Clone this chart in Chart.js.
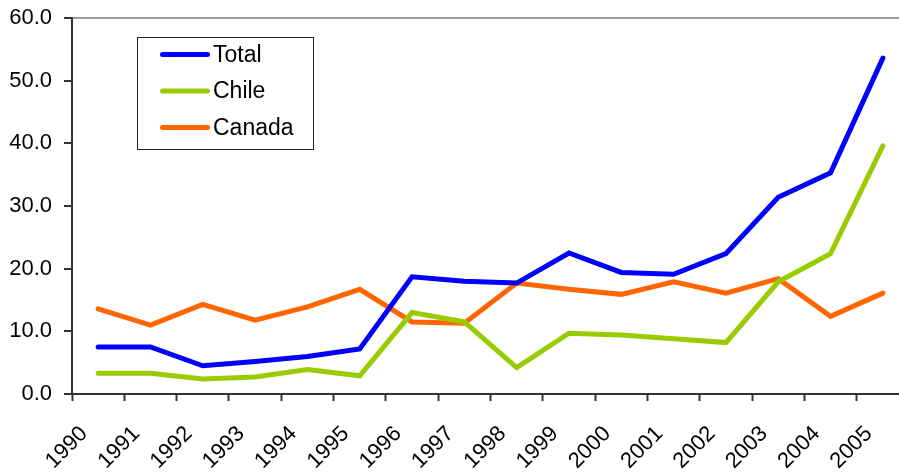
<!DOCTYPE html>
<html>
<head>
<meta charset="utf-8">
<script src="https://cdn.jsdelivr.net/npm/chart.js@4"></script>
<style>
  html, body { margin: 0; padding: 0; background: #fff; overflow: hidden; }
  #wrap { position: relative; width: 910px; height: 476px; }
</style>
</head>
<body>
<div id="wrap"><canvas id="importChart"></canvas></div>
<script>
// Chart data
const years = ['1990', '1991', '1992', '1993', '1994', '1995', '1996', '1997',
               '1998', '1999', '2000', '2001', '2002', '2003', '2004', '2005'];
const totalValues  = [7.5, 7.5, 4.5, 5.2, 6.0, 7.2, 18.7, 18.0, 17.7, 22.5, 19.4, 19.1, 22.4, 31.4, 35.3, 53.6];
const chileValues  = [3.3, 3.3, 2.4, 2.7, 3.9, 2.9, 13.0, 11.5, 4.2, 9.7, 9.4, 8.8, 8.2, 17.9, 22.4, 39.6];
const canadaValues = [13.6, 11.0, 14.3, 11.8, 13.9, 16.7, 11.5, 11.3, 17.7, 16.7, 15.9, 17.9, 16.1, 18.4, 12.4, 16.1];
const yMin = 0;
const yMax = 60;
const yStep = 10;

const FONT = '"Liberation Sans", Arial, sans-serif';

// Boxed legend inside the plot, like the original
const boxLegend = {
    id: 'boxLegend',
    afterDatasetsDraw(chart) {
        const { ctx, chartArea } = chart;
        const x = chartArea.left + 65;
        const y = chartArea.top + 19;
        const w = 176, h = 112;
        ctx.save();
        ctx.fillStyle = '#fff';
        ctx.fillRect(x, y, w, h);
        ctx.strokeStyle = '#222';
        ctx.lineWidth = 1;
        ctx.strokeRect(x + 0.5, y + 0.5, w, h);
        chart.data.datasets.forEach((ds, i) => {
            const rowY = y + 17.5 + i * 36.5;
            ctx.strokeStyle = ds.borderColor;
            ctx.lineWidth = 5;
            ctx.lineCap = 'round';
            ctx.beginPath();
            ctx.moveTo(x + 25.5, rowY);
            ctx.lineTo(x + 70.5, rowY);
            ctx.stroke();
            ctx.fillStyle = '#000';
            ctx.font = '23px ' + FONT;
            ctx.textBaseline = 'middle';
            ctx.fillText(ds.label, x + 76, rowY + 1);
        });
        ctx.restore();
    }
};

function lineSeries(label, data, color) {
    return {
        label: label,
        data: data,
        borderColor: color,
        backgroundColor: color,
        borderWidth: 5,
        borderCapStyle: 'round',
        borderJoinStyle: 'miter',
        pointRadius: 0,
        tension: 0,
        fill: false
    };
}

new Chart(document.getElementById('importChart').getContext('2d'), {
    type: 'line',
    data: {
        labels: years,
        datasets: [
            lineSeries('Total', totalValues, '#0000FF'),
            lineSeries('Chile', chileValues, '#99CC00'),
            lineSeries('Canada', canadaValues, '#FF6600')
        ]
    },
    options: {
        responsive: true,
        maintainAspectRatio: false,
        animation: false,
        layout: { padding: { top: 18, right: 1, left: 0, bottom: 0 } },
        plugins: {
            legend: { display: false },
            tooltip: { enabled: false }
        },
        scales: {
            x: {
                offset: true,
                grid: {
                    offset: true,
                    drawOnChartArea: false,
                    tickLength: 7,
                    tickColor: '#333',
                    tickWidth: 2
                },
                border: { color: '#333', width: 2 },
                ticks: {
                    color: '#000',
                    font: { family: FONT, size: 22 },
                    minRotation: 45,
                    maxRotation: 45,
                    autoSkip: false,
                    labelOffset: -14,
                    padding: 20
                },
                afterFit(scale) {
                    scale.height = 82;
                    scale.paddingLeft = 0;
                    scale.paddingRight = 0;
                }
            },
            y: {
                min: yMin,
                max: yMax,
                grid: {
                    color: (c) => (c.tick && c.tick.value === yMax) ? '#999' : 'rgba(0,0,0,0)',
                    lineWidth: 2,
                    tickLength: 8,
                    tickColor: '#333',
                    tickWidth: 2
                },
                border: { color: '#333', width: 2 },
                ticks: {
                    stepSize: yStep,
                    color: '#000',
                    padding: 12,
                    font: { family: FONT, size: 22 },
                    callback: (v) => v.toFixed(1)
                },
                afterFit(scale) {
                    scale.width = 72;
                    scale.paddingTop = 0;
                    scale.paddingBottom = 0;
                }
            }
        }
    },
    plugins: [boxLegend]
});
</script>
</body>
</html>
